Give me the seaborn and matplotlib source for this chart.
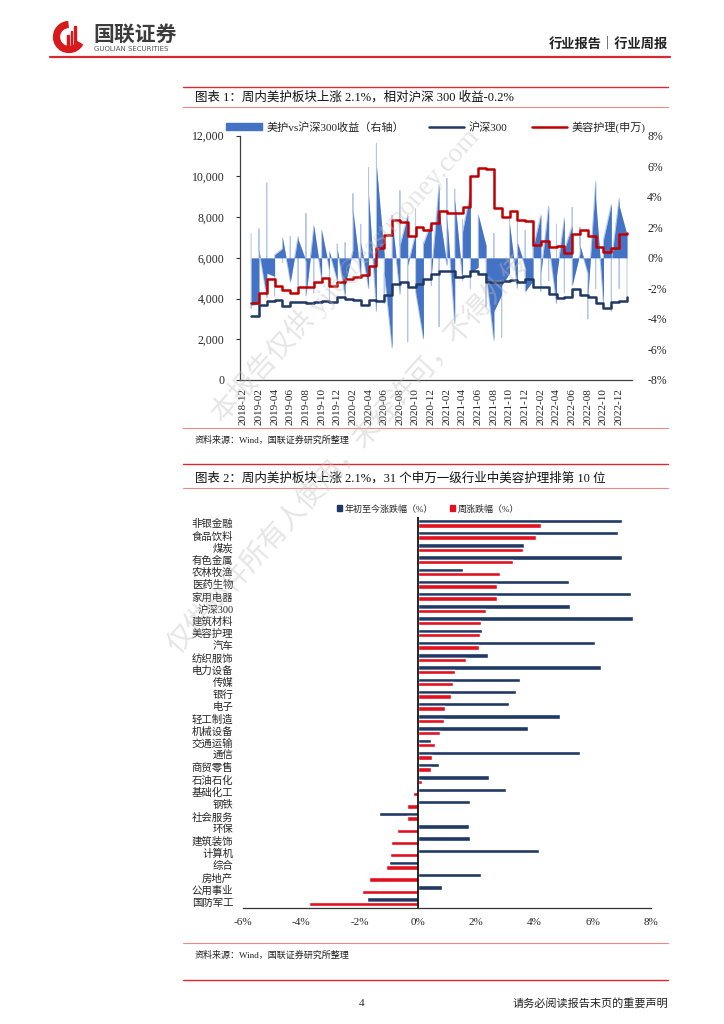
import numpy as np
import pandas as pd
import seaborn as sns
import matplotlib.pyplot as plt
from matplotlib.patches import Patch, Wedge
from matplotlib.lines import Line2D

sns.set_theme(style='white')
plt.rcParams['font.family'] = ['Liberation Serif', 'Noto Sans CJK SC', 'DejaVu Sans']
plt.rcParams['axes.unicode_minus'] = False

W, H = 724, 1024

# ---------- chart 1 data (monthly positions, 2019-01 .. 2023-01) ----------
months = pd.period_range('2018-12', '2023-01', freq='M').strftime('%Y-%m').tolist()

hs300 = [3150, 3670, 3870, 3910, 3630, 3830, 3840, 3800, 3810, 3890, 3830, 4100,
         4000, 3940, 3690, 3910, 3870, 4160, 4700, 4820, 4590, 4700, 4980, 5210,
         5350, 5340, 5050, 5120, 5330, 5220, 4810, 4800, 4870, 4910, 4830, 4940,
         4560, 4580, 4220, 4020, 4090, 4490, 4170, 4080, 3800, 3540, 3850, 3870,
         4060]

beauty = [3800, 4250, 4950, 4600, 4400, 4250, 4550, 4550, 4800, 5000, 4600, 4800,
          4950, 5050, 5150, 5600, 6500, 7100, 7850, 7750, 7050, 7500, 7350, 7700,
          8300, 8200, 8200, 8500, 10000, 10400, 10350, 8450, 8000, 8300, 7850, 7800,
          6650, 6850, 6550, 6600, 6250, 7150, 7350, 7050, 6550, 6300, 6500, 7150,
          7200]

# weekly excess return grouped by month: first week, extreme week, last week (%)
excess_first = [1.6, -3.0, -2.6, -1.2, 0.6, -1.5, 1.4, -0.2, 2.0, -1.4, -0.8, -1.5,
                -2.5, 0.5, -1.2, -2.0, -3.5, 0.2, -5.9, -2.4, 2.8, 1.6, -5.3, 2.3,
                4.8, -0.5, -4.3, -1.5, 4.3, -0.6, 0.8, -5.4, -2.4, -1.0, -2.0, -0.6,
                -1.5, 2.8, 3.4, -3.0, 2.6, 2.1, 0.3, -1.0, 5.0, -3.0, 3.5, 3.9,
                1.5]
excess_peak = [-3.3, 1.9, 4.9, -2.5, -0.3, 1.4, -1.8, 2.9, -2.3, 0.8, -2.8, 0.9,
               1.0, 4.2, 2.2, 5.9, 7.5, -3.0, 2.8, 4.4, -5.5, 3.2, 1.0, -1.8,
               -4.5, 5.2, 4.5, 2.5, -2.0, 2.6, -3.2, 1.6, -5.2, 2.5, 2.3, 1.8,
               1.2, -2.2, -1.5, 2.2, -2.3, 3.3, 2.0, -4.0, -2.0, 1.0, -3.5, -2.0,
               -1.5]
excess_last = [-3.1, 0.5, -1.0, 0.2, 1.3, -1.6, 1.2, -2.5, 2.1, 1.8, 0.4, 0.6,
               -1.8, 3.1, 1.0, 4.1, 6.0, -1.0, 2.5, 0.8, -0.5, -2.2, 0.9, -1.2,
               3.0, 2.6, 3.8, 1.7, -1.0, 2.8, -1.0, -3.5, -1.8, 2.2, 1.0, -2.2,
               0.6, -1.0, 1.0, -1.2, 0.5, -1.8, 0.8, -2.5, 3.8, 1.2, -0.2, 3.4,
               -2.5]

# ---------- chart 2 data ----------
industries = ['非银金融', '食品饮料', '煤炭', '有色金属', '农林牧渔', '医药生物', '家用电器',
              '沪深300', '建筑材料', '美容护理', '汽车', '纺织服饰', '电力设备', '传媒', '银行',
              '电子', '轻工制造', '机械设备', '交通运输', '通信', '商贸零售', '石油石化',
              '基础化工', '钢铁', '社会服务', '环保', '建筑装饰', '计算机', '综合', '房地产',
              '公用事业', '国防军工']
ytd_chg = [7.01, 6.86, 3.65, 7.01, 1.56, 5.20, 7.32, 5.23, 7.38, 2.19, 6.09, 2.42,
           6.30, 3.52, 3.38, 3.12, 4.88, 3.77, 0.45, 5.57, 0.71, 2.44, 3.04, 1.79,
           -1.33, 1.75, 1.80, 4.15, -0.99, 2.15, 0.84, -1.73]
week_chg = [4.23, 4.05, 3.60, 3.28, 2.82, 2.71, 2.71, 2.34, 2.16, 2.14, 2.10, 1.65,
            1.28, 1.20, 1.15, 0.93, 0.88, 0.77, 0.60, 0.48, 0.44, 0.14, -0.18, -0.36,
            -0.36, -0.72, -0.93, -0.96, -1.08, -1.67, -1.91, -3.72]

NAVY = '#1F3864'
RED = '#C00000'
BLUE = '#4472C4'
LINE_RED = '#D9282F'


def fx(x):
    return x / W


def fy(y):
    return 1 - y / H


def hline(fig, y, x0, x1, color, lw):
    fig.add_artist(Line2D([fx(x0), fx(x1)], [fy(y), fy(y)], transform=fig.transFigure,
                          color=color, lw=lw))


fig = plt.figure(figsize=(W / 100, H / 100), dpi=100)

# ---------- header ----------
logo = fig.add_axes([fx(52), fy(54), fx(34), 34 / H])
logo.set_xlim(-1.1, 1.1)
logo.set_ylim(-1.1, 1.1)
logo.set_aspect('equal')
logo.axis('off')
logo.add_patch(Wedge((0, 0), 1.0, 95, 330, width=0.38, color='#D7191C'))
for i, h in enumerate([0.7, 1.0, 1.3]):
    logo.add_patch(plt.Rectangle((-0.15 + i * 0.25, -0.6), 0.12, h, color='#D7191C'))
fig.text(fx(93), fy(34), '国联证券', fontsize=15, fontweight='bold', color='#3C3C3C',
         family=['Noto Sans CJK SC'], va='center', ha='left')
fig.text(fx(94), fy(49), 'GUOLIAN SECURITIES', fontsize=5, color='#555555',
         family=['DejaVu Sans'], va='center', ha='left')
fig.text(fx(668), fy(44), '行业报告｜行业周报', fontsize=9.5, fontweight='bold',
         color='#222222', family=['Noto Sans CJK SC'], va='center', ha='right')
hline(fig, 57, 50, 670, LINE_RED, 1.6)

# ---------- chart 1 frame texts ----------
hline(fig, 87, 183, 668, LINE_RED, 1.0)
fig.text(fx(195), fy(97), '图表 1：周内美护板块上涨 2.1%，相对沪深 300 收益-0.2%',
         fontsize=9, va='center', ha='left', color='#111111')
hline(fig, 107, 183, 668, '#E88A8A', 0.8)
hline(fig, 428, 183, 668, '#E88A8A', 0.8)
fig.text(fx(195), fy(440), '资料来源：Wind，国联证券研究所整理', fontsize=6.5,
         va='center', ha='left', color='#222222')

ax1 = fig.add_axes([fx(240), fy(380), (632 - 240) / W, (380 - 135.7) / H])
ax2 = ax1.twinx()
ax1.set_zorder(ax2.get_zorder() + 1)
ax1.patch.set_visible(False)

mx = np.arange(1, len(hs300) + 1)
wx = np.repeat(mx, 3)
wy = np.column_stack([excess_first, excess_peak, excess_last]).ravel()
ax2.plot(wx, wy, color='#B4C7E7', lw=0.7, zorder=1)
ax2.fill_between(wx, wy, 0, color=BLUE, lw=0, zorder=2)
ax2.set_ylim(-8, 8)
ax2.set_yticks(np.arange(-8, 9, 2))
ax2.set_yticklabels([f'{v}%' for v in range(-8, 9, 2)], fontsize=8.5)
ax2.tick_params(axis='y', length=0, pad=11)
for s in ax2.spines.values():
    s.set_visible(False)

sns.lineplot(x=mx, y=hs300, ax=ax1, color=NAVY, lw=1.8, drawstyle='steps-post',
             legend=False)
sns.lineplot(x=mx, y=beauty, ax=ax1, color=RED, lw=1.8, drawstyle='steps-post',
             legend=False)
ax1.set_xlim(-0.42, 49.64)
ax1.set_ylim(0, 12000)
ax1.set_yticks(np.arange(0, 12001, 2000))
ax1.set_yticklabels([f'{v:,}' for v in range(0, 12001, 2000)], fontsize=8.5)
ax1.set_xticks(range(0, 49, 2))
ax1.set_xticklabels(months[0:49:2], rotation=90, fontsize=8)
ax1.tick_params(axis='both', length=3, width=0.8, color='#333333', pad=3)
ax1.tick_params(axis='y', pad=8)
for side in ['top', 'right']:
    ax1.spines[side].set_visible(False)
for side in ['left', 'bottom']:
    ax1.spines[side].set_color('#404040')
    ax1.spines[side].set_linewidth(0.9)

h1 = [Patch(color=BLUE), Line2D([], [], color=NAVY, lw=1.8), Line2D([], [], color=RED, lw=1.8)]
fig.legend(h1, ['美护vs沪深300收益（右轴）', '沪深300', '美容护理(申万)'],
           loc='center', bbox_to_anchor=(fx(436), fy(127)), ncol=3, frameon=False,
           fontsize=8, handlelength=3.2, handleheight=0.6, columnspacing=2.2,
           handletextpad=0.4)

# ---------- chart 2 frame texts ----------
hline(fig, 464, 183, 668, LINE_RED, 1.0)
fig.text(fx(195), fy(478), '图表 2：周内美护板块上涨 2.1%，31 个申万一级行业中美容护理排第 10 位',
         fontsize=9, va='center', ha='left', color='#111111')
hline(fig, 488, 183, 668, '#E88A8A', 0.8)
hline(fig, 943, 183, 668, '#E88A8A', 0.8)
fig.text(fx(195), fy(955), '资料来源：Wind，国联证券研究所整理', fontsize=6.5,
         va='center', ha='left', color='#222222')

ax3 = fig.add_axes([fx(243), fy(908), 408 / W, (908 - 517) / H])
lab_ytd = '年初至今涨跌幅（%）'
lab_week = '周涨跌幅（%）'
df = pd.DataFrame({
    'industry': industries * 2,
    'value': ytd_chg + week_chg,
    'series': [lab_ytd] * len(industries) + [lab_week] * len(industries),
})
sns.barplot(data=df, y='industry', x='value', hue='series', orient='h', ax=ax3,
            palette=[NAVY, '#E3101E'], width=0.72, legend=False, saturation=1)
ax3.axvline(0, color='black', lw=1.2, zorder=5)
ax3.set_xlim(-6, 8)
ax3.set_xticks(np.arange(-6, 9, 2))
ax3.set_xticklabels([f'{v}%' for v in range(-6, 9, 2)], fontsize=8)
ax3.set_xlabel('')
ax3.set_ylabel('')
ax3.tick_params(axis='y', length=0, pad=7, labelsize=7.5)
ax3.tick_params(axis='x', length=3, width=0.8, color='#333333', pad=4)
for side in ['top', 'right', 'left']:
    ax3.spines[side].set_visible(False)
ax3.spines['bottom'].set_color('#333333')
ax3.spines['bottom'].set_linewidth(0.9)

h2 = [Patch(color=NAVY), Patch(color='#E3101E')]
fig.legend(h2, [lab_ytd, lab_week], loc='center', bbox_to_anchor=(fx(428), fy(509)),
           ncol=2, frameon=False, fontsize=6.5, handlelength=0.6, handleheight=0.6,
           columnspacing=1.8, handletextpad=0.3)

# ---------- footer ----------
hline(fig, 980, 183, 668, LINE_RED, 1.0)
fig.text(fx(362), fy(1003), '4', fontsize=8, va='center', ha='center')
fig.text(fx(668), fy(1003), '请务必阅读报告末页的重要声明', fontsize=8, va='center',
         ha='right', color='#222222')

# ---------- watermark ----------
fig.text(fx(345), fy(275), '本报告仅供 yjie@eastmoney.com', fontsize=20, rotation=48,
         color='#BFBFBF', alpha=0.4, ha='center', va='center')
fig.text(fx(350), fy(455), '仅供邮件所有人使用，未经许可，不得外传', fontsize=20,
         rotation=48, color='#BFBFBF', alpha=0.4, ha='center', va='center')

fig.savefig('out.png', dpi=100)
